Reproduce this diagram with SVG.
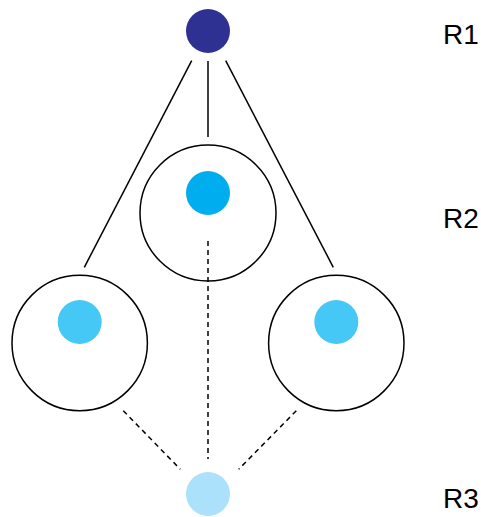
<svg xmlns="http://www.w3.org/2000/svg" width="481" height="517" viewBox="0 0 481 517">
<style>
.ring{fill:none;stroke:#000;stroke-width:1.5}
.ln{stroke:#000;stroke-width:1.5;fill:none}
.dash{stroke:#000;stroke-width:1.5;fill:none;stroke-dasharray:5 4}
.lbl{font-family:"Liberation Sans",Arial,sans-serif;font-size:28px;fill:#000}
</style>
<rect width="481" height="517" fill="#fff"/>
<g id="connectors">
<line class="ln" x1="191.7" y1="60.7" x2="84.3" y2="267.3"/>
<line class="ln" x1="208" y1="61" x2="208" y2="137"/>
<line class="ln" x1="225.7" y1="60.7" x2="333.3" y2="267.3"/>
<line class="dash" x1="208" y1="241" x2="208" y2="459"/>
<line class="dash" x1="123.3" y1="410.7" x2="180.3" y2="469.3"/>
<line class="dash" x1="296.3" y1="410.7" x2="238.7" y2="469.3"/>
</g>
<g id="r1-node"><circle cx="208" cy="31" r="22" fill="#2E3192"/></g>
<g id="r2-middle"><circle class="ring" cx="208" cy="213" r="68"/><circle cx="208" cy="193" r="22" fill="#00AEEF"/></g>
<g id="r2-left"><circle class="ring" cx="79.7" cy="343" r="67.7"/><circle cx="79.7" cy="322" r="22" fill="#45C8F5"/></g>
<g id="r2-right"><circle class="ring" cx="336.3" cy="343" r="67.7"/><circle cx="336.3" cy="322" r="22" fill="#45C8F5"/></g>
<g id="r3-node"><circle cx="208" cy="494" r="22" fill="#ABE1FA"/></g>
<g id="labels">
<text class="lbl" x="443" y="44.3">R1</text>
<text class="lbl" x="443" y="228.3">R2</text>
<text class="lbl" x="443" y="508.3">R3</text>
</g>
</svg>
